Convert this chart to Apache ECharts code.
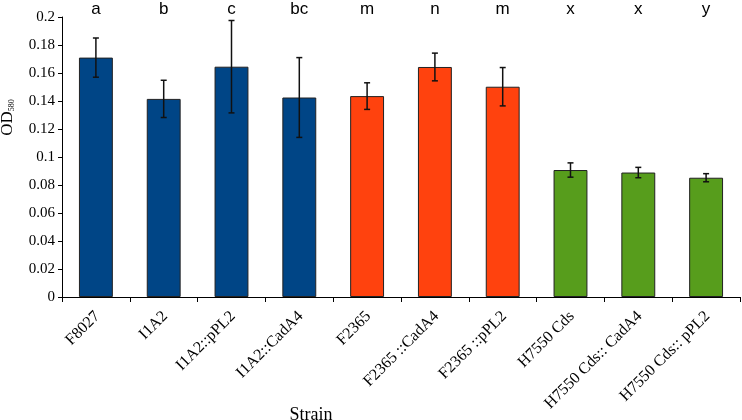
<!DOCTYPE html>
<html>
<head>
<meta charset="utf-8">
<script src="https://cdn.jsdelivr.net/npm/echarts@6/dist/echarts.min.js"></script>
<style>html,body{margin:0;padding:0;background:#fff}#c{width:742px;height:420px}</style>
</head>
<body>
<div id="c"></div>
<script>
const categories = ['F8027','I1A2','I1A2::pPL2','I1A2::CadA4','F2365','F2365 ::CadA4','F2365 ::pPL2','H7550 Cds','H7550 Cds:: CadA4','H7550 Cds:: pPL2'];
const values = [0.171, 0.1415, 0.1645, 0.1425, 0.1435, 0.1643, 0.1502, 0.0907, 0.0889, 0.0852];
const errors = [0.014, 0.0133, 0.033, 0.0285, 0.0095, 0.0099, 0.0137, 0.0051, 0.0037, 0.0029];
const letters = ['a','b','c','bc','m','n','m','x','x','y'];
const groups = [0,0,0,0,1,1,1,2,2,2];
const yTicks = [0,0.02,0.04,0.06,0.08,0.1,0.12,0.14,0.16,0.18,0.2];

const groupColors = ['#004586','#ff420e','#579d1c'];
const serif = 'Liberation Serif';

const chart = echarts.init(document.getElementById('c'));
const barData = values.map((v,i)=>({value:v, itemStyle:{color:groupColors[groups[i]]}}));
const errData = values.map((v,i)=>[i, v+errors[i], v-errors[i]]);

chart.setOption({
  animation:false,
  grid:{left:62, right:2, top:17, bottom:123, outerBoundsMode:'none', containLabel:false},
  xAxis:[{
    type:'category', data:categories, position:'bottom',
    axisLine:{lineStyle:{color:'#000', width:1}},
    axisTick:{show:true, length:5, lineStyle:{color:'#000'}},
    axisLabel:{rotate:45, margin:7, verticalAlign:'top', padding:[0,6,0,0], color:'#000', fontFamily:serif, fontSize:16, interval:0},
    name:'Strain', nameLocation:'middle', nameGap:109, nameMoveOverlap:false,
    nameTextStyle:{color:'#000', fontFamily:serif, fontSize:18, padding:[0,180,0,0]}
  },{
    type:'category', data:letters, position:'top',
    axisLine:{show:false}, axisTick:{show:false},
    axisLabel:{margin:-1, color:'#000', fontFamily:'Liberation Sans', fontSize:17, interval:0}
  }],
  yAxis:{
    type:'value', min:0, max:0.2, interval:0.02,
    axisLine:{show:true, lineStyle:{color:'#000'}},
    axisTick:{show:true, length:4, lineStyle:{color:'#000'}},
    splitLine:{show:false},
    axisLabel:{margin:7, color:'#000', fontFamily:serif, fontSize:15,
      formatter:v=>{const t=yTicks.find(x=>Math.abs(x-v)<1e-9); return String(+(t!==undefined?t:v).toFixed(2));}},
    name:'{a|OD}{b|580}', nameLocation:'middle', nameGap:46, nameRotate:90,
    nameTextStyle:{padding:[0,0,0,79], rich:{a:{fontFamily:serif, fontSize:17, color:'#000'}, b:{fontFamily:serif, fontSize:8, color:'#000', verticalAlign:'bottom', padding:[8,0,0,0]}}}
  },
  series:[{
    type:'bar', data:barData, barWidth:'50%', xAxisIndex:0,
    itemStyle:{borderColor:'#222', borderWidth:1}
  },{
    type:'custom', xAxisIndex:0, data:errData, encode:{x:0, y:[1,2]}, z:5,
    renderItem:function(params, api){
      const x = api.value(0);
      const hi = api.coord([x, api.value(1)]);
      const lo = api.coord([x, api.value(2)]);
      const h = 3;
      const st = {stroke:'#111', lineWidth:1.5};
      return {type:'group', children:[
        {type:'line', shape:{x1:hi[0], y1:hi[1], x2:lo[0], y2:lo[1]}, style:st},
        {type:'line', shape:{x1:hi[0]-h, y1:hi[1], x2:hi[0]+h, y2:hi[1]}, style:st},
        {type:'line', shape:{x1:lo[0]-h, y1:lo[1], x2:lo[0]+h, y2:lo[1]}, style:st}
      ]};
    }
  }]
});
</script>
</body>
</html>
